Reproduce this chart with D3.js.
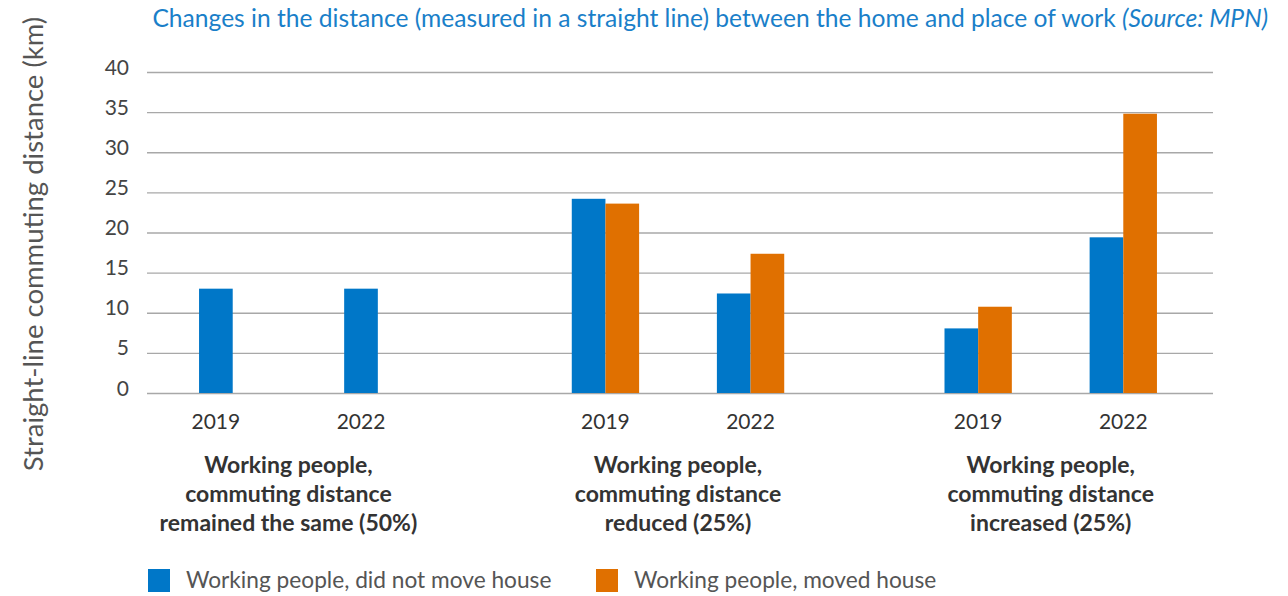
<!DOCTYPE html>
<html>
<head>
<meta charset="utf-8">
<script src="https://cdn.jsdelivr.net/npm/d3@7"></script>
<style>
  html, body { margin: 0; padding: 0; background: #fff; }
  svg { display: block; font-family: Lato, "Open Sans", sans-serif; }
</style>
</head>
<body>
<svg id="chart" width="1288" height="596"></svg>
<script>
// Commuting distance groups, survey years and series
const groups = ["same", "reduced", "increased"];
const groupLabels = [
  ["Working people,", "commuting distance", "remained the same (50%)"],
  ["Working people,", "commuting distance", "reduced (25%)"],
  ["Working people,", "commuting distance", "increased (25%)"]
];
const years = ["2019", "2022"];
const seriesNames = ["Working people, did not move house", "Working people, moved house"];
const seriesColors = ["#0077c8", "#e07000"];

// Straight-line distance in km, per group, for [2019, 2022]; null = no bar
const notMoved = [[13.0, 13.0], [24.2, 12.4], [8.05, 19.4]];
const moved    = [[null, null], [23.6, 17.35], [10.75, 34.8]];
const yTicks = [0, 5, 10, 15, 20, 25, 30, 35, 40];

const svg = d3.select("#chart");
const plot = { left: 147, right: 1213, top: 72, bottom: 393 };

const y = d3.scaleLinear().domain([0, 40]).range([plot.bottom, plot.top]);
const x0 = d3.scaleBand().domain(groups).range([plot.left - 2, plot.right - 2])
  .paddingInner(0.43).paddingOuter(0.145);
const x1 = d3.scaleBand().domain(years).range([0, x0.bandwidth()]).paddingInner(0.536);
const x2 = d3.scaleBand().domain([0, 1]).range([0, x1.bandwidth()]);

// Title
const title = svg.append("text")
  .attr("x", 1268).attr("y", 27)
  .attr("text-anchor", "end")
  .attr("fill", "#1a7fc9")
  .attr("font-size", 24.6);
title.append("tspan").text("Changes in the distance (measured in a straight line) between the home and place of work ");
title.append("tspan").attr("font-style", "italic").text("(Source: MPN)");

// Gridlines and y tick labels
const yAxis = d3.axisLeft(y).tickValues(yTicks)
  .tickSize(-(plot.right - plot.left)).tickPadding(18).tickFormat(d3.format("d"));
const yg = svg.append("g").attr("transform", `translate(${plot.left},0)`).call(yAxis);
yg.select(".domain").remove();
yg.selectAll(".tick line").attr("stroke", "#a8a8a8").attr("stroke-width", 1.3);
yg.selectAll(".tick text").attr("fill", "#444").attr("font-size", 21)
  .attr("font-family", "Lato, sans-serif").attr("dy", "0.1em");

// Y axis title
svg.append("text")
  .attr("transform", "translate(43,244) rotate(-90)")
  .attr("text-anchor", "middle")
  .attr("fill", "#555")
  .attr("font-size", 27.5)
  .text("Straight-line commuting distance (km)");

// Flatten bars
const bars = [];
const yearCenters = [];
groups.forEach((g, gi) => {
  years.forEach((yr, yi) => {
    const vals = [notMoved[gi][yi], moved[gi][yi]];
    const present = [];
    vals.forEach((v, si) => {
      if (v == null) return;
      const bx = x0(g) + x1(yr) + x2(si);
      bars.push({ g, yr, si, v, x: bx });
      present.push(bx);
    });
    const cx = (d3.min(present) + d3.max(present) + x2.bandwidth()) / 2;
    yearCenters.push({ gi, yr, cx });
  });
});

svg.append("g").selectAll("rect").data(bars).join("rect")
  .attr("x", d => d.x)
  .attr("width", x2.bandwidth())
  .attr("y", d => y(d.v))
  .attr("height", d => y(0) - y(d.v))
  .attr("fill", d => seriesColors[d.si]);

// Year labels under each pair of bars
svg.append("g").selectAll("text").data(yearCenters).join("text")
  .attr("x", d => d.cx).attr("y", 429)
  .attr("text-anchor", "middle")
  .attr("fill", "#333").attr("font-size", 21)
  .text(d => d.yr);

// Group labels (bold, three lines)
groups.forEach((g, gi) => {
  const cs = yearCenters.filter(d => d.gi === gi).map(d => d.cx);
  const cx = d3.mean(cs);
  const t = svg.append("text")
    .attr("text-anchor", "middle")
    .attr("fill", "#333").attr("font-size", 23).attr("font-weight", "bold");
  groupLabels[gi].forEach((line, li) => {
    t.append("tspan").attr("x", cx).attr("y", 473 + li * 29).text(line);
  });
});

// Legend
const legendX = [148, 596];
const lg = svg.append("g").selectAll("g").data(seriesNames).join("g")
  .attr("transform", (d, i) => `translate(${legendX[i]},569)`);
lg.append("rect").attr("width", 22).attr("height", 23)
  .attr("fill", (d, i) => seriesColors[i]);
lg.append("text").attr("x", 38).attr("y", 19)
  .attr("fill", "#555").attr("font-size", 22.7)
  .text(d => d);
</script>
</body>
</html>
